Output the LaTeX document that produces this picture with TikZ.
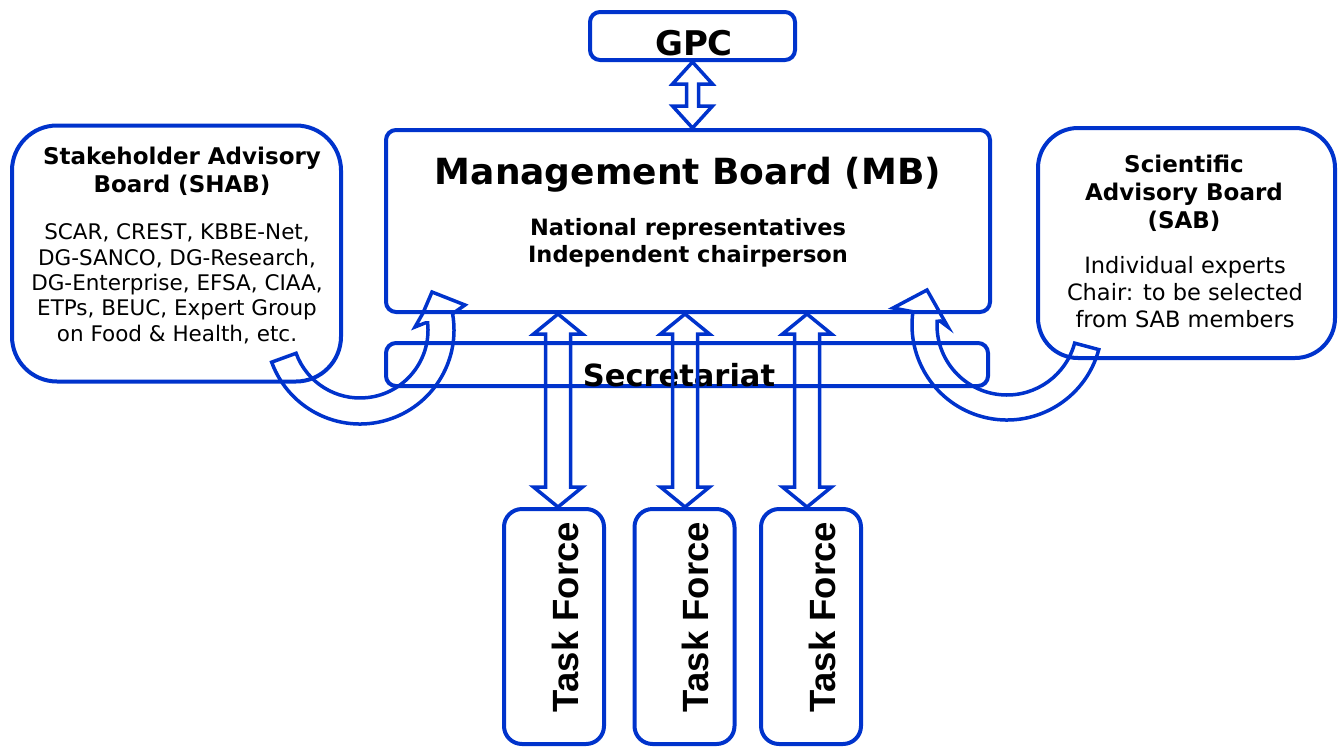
\documentclass[tikz,border=0pt]{standalone}
\usepackage{fontspec}
\setmainfont{DejaVu Sans}
\newfontfamily\tffont{Liberation Sans}
\usetikzlibrary{calc}

\definecolor{boardblue}{RGB}{0,51,204}

% double block arrow: top, bottom, half shaft, half head, head length
\newcommand{\dblarrow}[5]{%
	\draw[blockarrow] (#1) -- ($(#1)+(#4,#5)$) -- ($(#1)+(#3,#5)$) -- ($(#2)+(#3,-#5)$) -- ($(#2)+(#4,-#5)$) -- (#2)
		-- ($(#2)+(-#4,-#5)$) -- ($(#2)+(-#3,-#5)$) -- ($(#1)+(-#3,#5)$) -- ($(#1)+(-#4,#5)$) -- cycle;
}

\begin{document}
\begin{tikzpicture}[x=1pt, y=-1pt,
	box/.style={draw=boardblue, line width=4pt, rounded corners=10pt, inner sep=0pt},
	tfbox/.style={box, rounded corners=18pt, minimum width=100pt, minimum height=235pt},
	blockarrow/.style={draw=boardblue, line width=3.5pt},
	headtext/.style={font=\fontsize{23}{28}\selectfont\bfseries, align=center, anchor=base},
	bodytext/.style={font=\fontsize{21.5}{25.3}\selectfont, align=center, anchor=base},
	tftext/.style={font=\tffont\fontsize{36.5}{40}\selectfont\bfseries, rotate=90, anchor=base}]
	\useasboundingbox (0,0) rectangle (1341,747);

	\node[box, minimum width=205pt, minimum height=48pt] (gpc) at (692.5,36) {};
	\node[box, minimum width=604pt, minimum height=182pt] (mb) at (688,221) {};
	\node[box, minimum width=602pt, minimum height=43pt] (sec) at (687,364.5) {};
	\node[box, rounded corners=45pt, minimum width=329pt, minimum height=256pt] (shab) at (176.5,253.5) {};
	\node[box, rounded corners=40pt, minimum width=297pt, minimum height=230pt] (sab) at (1186.5,243) {};

	% multi-line texts: base is the baseline of the last line
	\node[font=\fontsize{34}{40}\selectfont\bfseries, anchor=base] (gpctext) at (694,55) {GPC};
	\node[font=\fontsize{36}{42}\selectfont\bfseries, anchor=base] (mbtitle) at (688,184) {Management Board (MB)};
	\node[font=\fontsize{22.5}{27}\selectfont\bfseries, align=center, anchor=base] (mbtext) at (688,262)
		{National representatives\\Independent chairperson};
	\node[font=\fontsize{30.5}{36}\selectfont\bfseries, anchor=base] (sectext) at (679,386) {Secretariat};

	\node[headtext] (shabtitle) at (182,192) {Stakeholder Advisory\\Board (SHAB)};
	\node[bodytext] (shabtext) at (177,341)
		{SCAR, CREST, KBBE-Net,\\DG-SANCO, DG-Research,\\DG-Enterprise, EFSA, CIAA,\\ETPs, BEUC, Expert Group\\on Food \& Health, etc.};
	\node[headtext] (sabtitle) at (1184,228) {Scientific\\Advisory Board\\(SAB)};
	\node[bodytext, font=\fontsize{22.5}{27}\selectfont] (sabtext) at (1185,327)
		{Individual experts\\Chair: to be selected\\from SAB members};

	\coordinate (gpcmb) at (gpc.south |- mb.north);
	\dblarrow{gpc.south}{gpcmb}{6}{20}{22}

	\foreach \i/\x/\dx in {1/554/4, 2/684.5/0.5, 3/811/-4}
	{
	\node[tfbox] (tf\i) at (\x,626.5) {};
	\node[tftext] (tftext\i) at ($(tf\i.center)+(24,-9.5)$) {Task Force};
	\coordinate (tfin\i) at ($(tf\i.north)+(\dx,0)$);
	\coordinate (mbout\i) at (tfin\i |- mb.south);
	\dblarrow{mbout\i}{tfin\i}{12.5}{24.5}{20}
}

	\coordinate (shabc) at (360,330);
	\draw[blockarrow] ($(shabc)+(160:94)$) arc[start angle=160, end angle=-10, radius=94]
		-- (465,305) -- (432,292) -- (423,313) -- (415,327) -- (425,323)
		-- ($(shabc)+(-6:68)$) arc[start angle=-6, end angle=160, radius=68] -- cycle;

	\coordinate (sabc) at (1007,325);
	\draw[blockarrow] ($(sabc)+(15:95)$) arc[start angle=15, end angle=188, radius=95]
		-- (893,308) -- (927,290) -- (948,327) -- (940,321)
		-- ($(sabc)+(183:70)$) arc[start angle=183, end angle=15, radius=70] -- cycle;

\end{tikzpicture}
\end{document}
